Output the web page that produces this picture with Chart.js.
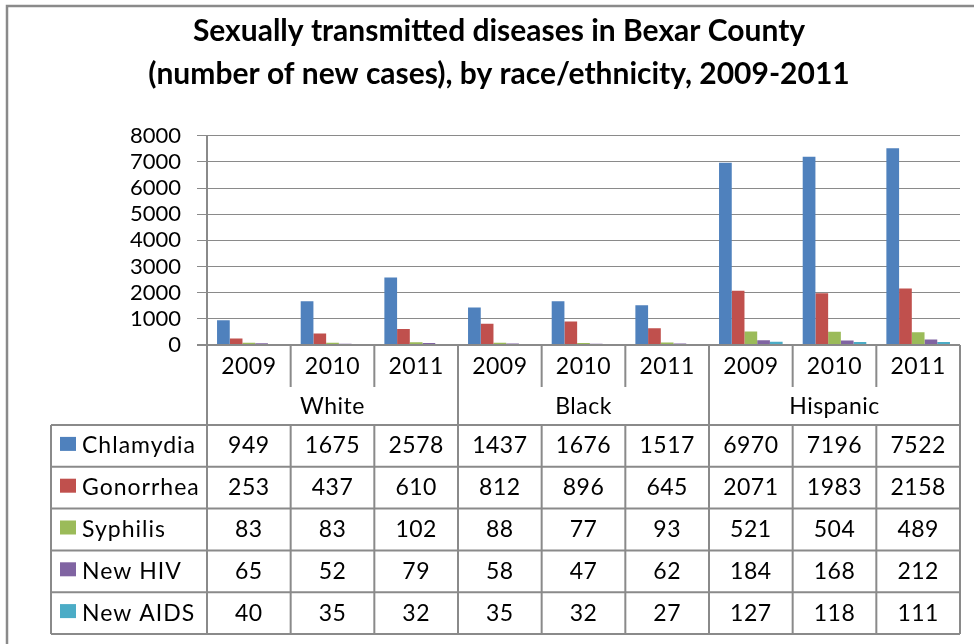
<!DOCTYPE html>
<html>
<head>
<meta charset="utf-8">
<script src="https://cdn.jsdelivr.net/npm/chart.js@4/dist/chart.umd.min.js"></script>
<style>
  html, body { margin: 0; padding: 0; background: #fff; }
  #wrap { width: 974px; height: 644px; position: relative; }
</style>
</head>
<body>
<div id="wrap"><canvas id="stdChart"></canvas></div>
<script>
// data
const groups = ['White', 'Black', 'Hispanic'];
const years = ['2009', '2010', '2011'];
const seriesNames = ['Chlamydia', 'Gonorrhea', 'Syphilis', 'New HIV', 'New AIDS'];
const chlamydia = [949, 1675, 2578, 1437, 1676, 1517, 6970, 7196, 7522];
const gonorrhea = [253, 437, 610, 812, 896, 645, 2071, 1983, 2158];
const syphilis = [83, 83, 102, 88, 77, 93, 521, 504, 489];
const newHIV = [65, 52, 79, 58, 47, 62, 184, 168, 212];
const newAIDS = [40, 35, 32, 35, 32, 27, 127, 118, 111];
const yTicks = [0, 1000, 2000, 3000, 4000, 5000, 6000, 7000, 8000];

const seriesValues = [chlamydia, gonorrhea, syphilis, newHIV, newAIDS];
const seriesColors = ['#4F81BD', '#C0504D', '#9BBB59', '#8064A2', '#4BACC6'];
const labels = [];
groups.forEach(g => years.forEach(y => labels.push(y)));

const lineColor = '#8a8a8a';
const textFont = '23px Lato';

// table under the plot area
const tablePlugin = {
    id: 'dataTable',
    afterDraw(chart) {
        const ctx = chart.ctx;
        const area = chart.chartArea;
        const x = chart.scales.x;
        const catW = (area.right - area.left) / labels.length;
        const axisY = area.bottom;
        const yearBottom = axisY + 42;
        const tableTop = axisY + 80;
        const rowH = 41.8;
        const tableBottom = tableTop + rowH * seriesNames.length;
        const tableLeft = 51;

        ctx.save();
        ctx.strokeStyle = lineColor;

        // outer frame
        ctx.lineWidth = 2.5;
        ctx.beginPath();
        ctx.moveTo(7, 644);
        ctx.lineTo(7, 6);
        ctx.lineTo(974, 6);
        ctx.stroke();

        ctx.lineWidth = 2;
        ctx.beginPath();
        // x axis and y axis extension
        ctx.moveTo(area.left - 10, axisY);
        ctx.lineTo(area.right, axisY);
        ctx.moveTo(area.left, area.top);
        ctx.lineTo(area.left, tableBottom);
        // category separators
        for (let i = 1; i <= labels.length; i++) {
            const bx = area.left + i * catW;
            if (i % years.length === 0) {
                ctx.moveTo(bx, axisY);
                ctx.lineTo(bx, tableBottom);
            } else {
                ctx.moveTo(bx, axisY);
                ctx.lineTo(bx, yearBottom);
                ctx.moveTo(bx, tableTop);
                ctx.lineTo(bx, tableBottom);
            }
        }
        // table rows
        for (let r = 0; r <= seriesNames.length; r++) {
            const ry = tableTop + r * rowH;
            ctx.moveTo(tableLeft, ry);
            ctx.lineTo(area.right, ry);
        }
        ctx.moveTo(tableLeft, tableTop);
        ctx.lineTo(tableLeft, tableBottom);
        ctx.stroke();

        ctx.fillStyle = '#000';
        ctx.font = textFont;
        ctx.textBaseline = 'middle';
        ctx.textAlign = 'center';
        ctx.letterSpacing = '0.5px';
        labels.forEach((lab, i) => {
            ctx.fillText(lab, x.getPixelForValue(i), axisY + 22);
        });
        groups.forEach((g, gi) => {
            const cx = area.left + (gi * years.length + years.length / 2) * catW;
            ctx.fillText(g, cx, yearBottom + 20);
        });

        seriesNames.forEach((name, r) => {
            const cy = tableTop + r * rowH + rowH / 2;
            ctx.fillStyle = seriesColors[r];
            ctx.fillRect(60, cy - 9, 16, 14);
            ctx.fillStyle = '#000';
            ctx.textAlign = 'left';
            ctx.letterSpacing = '1px';
            ctx.fillText(name, 82, cy);
            ctx.letterSpacing = '0.5px';
            ctx.textAlign = 'center';
            seriesValues[r].forEach((v, i) => {
                ctx.fillText(String(v), x.getPixelForValue(i), cy);
            });
        });
        ctx.restore();
    }
};

new Chart(document.getElementById('stdChart'), {
    type: 'bar',
    data: {
        labels: labels,
        datasets: seriesNames.map((name, i) => ({
            label: name,
            data: seriesValues[i],
            backgroundColor: seriesColors[i],
            borderWidth: 0,
            categoryPercentage: 0.76,
            barPercentage: 1.0
        }))
    },
    options: {
        responsive: true,
        maintainAspectRatio: false,
        animation: false,
        layout: { padding: { left: 38, right: 14, top: 0, bottom: 299 } },
        plugins: {
            legend: { display: false },
            tooltip: { enabled: false },
            title: {
                display: true,
                text: ['Sexually transmitted diseases in Bexar County',
                       '(number of new cases), by race/ethnicity, 2009-2011'],
                color: '#000',
                font: { family: 'Lato', size: 30, weight: 'bold', lineHeight: 1.43 },
                padding: { top: 10, bottom: 40 }
            }
        },
        scales: {
            x: { display: false },
            y: {
                min: 0,
                max: 8000,
                afterBuildTicks: scale => { scale.ticks = yTicks.map(v => ({ value: v })); },
                afterFit: scale => { scale.width = 169; },
                border: { display: true, color: lineColor, width: 2 },
                grid: { color: lineColor, lineWidth: 1, tickLength: 10, tickColor: lineColor },
                ticks: {
                    color: '#000',
                    font: { family: 'Lato', size: 22 },
                    padding: 16,
                    autoSkip: false,
                    callback: v => String(v)
                }
            }
        }
    },
    plugins: [tablePlugin]
});
</script>
</body>
</html>
